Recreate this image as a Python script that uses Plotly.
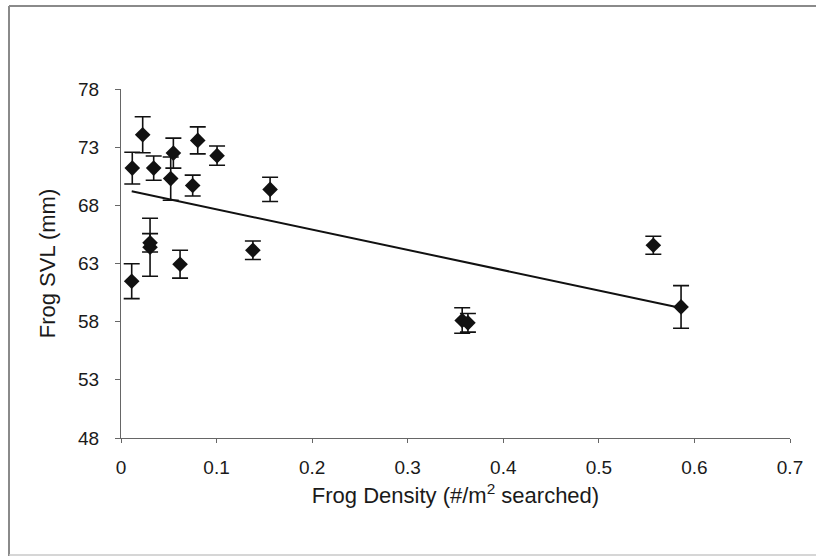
import numpy as np
import plotly.graph_objects as go

# Data
density = [0.0112, 0.0118, 0.0227, 0.0304, 0.0304, 0.0342, 0.0520, 0.0548, 0.0618,
           0.0750, 0.0803, 0.1005, 0.1380, 0.1560, 0.3570, 0.3630, 0.5570, 0.5860]
svl = [61.48, 71.20, 74.07, 64.40, 64.78, 71.20, 70.30, 72.49, 62.94,
       69.70, 73.58, 72.27, 64.14, 69.37, 58.10, 57.90, 64.57, 59.27]
svl_err = [1.50, 1.36, 1.55, 2.49, 0.79, 1.04, 1.86, 1.29, 1.20,
           0.90, 1.16, 0.83, 0.80, 1.04, 1.10, 0.80, 0.77, 1.83]

x_ticks = [0, 0.1, 0.2, 0.3, 0.4, 0.5, 0.6, 0.7]
x_tick_labels = ["0", "0.1", "0.2", "0.3", "0.4", "0.5", "0.6", "0.7"]
y_ticks = [48, 53, 58, 63, 68, 73, 78]
y_tick_labels = ["48", "53", "58", "63", "68", "73", "78"]

# Linear trendline (least squares), spanning data range
slope, intercept = np.polyfit(density, svl, 1)
trend_x = [min(density), max(density)]
trend_y = [slope * v + intercept for v in trend_x]

FONT = "Liberation Sans, Arial, sans-serif"

fig = go.Figure()
fig.add_trace(go.Scatter(
    x=trend_x, y=trend_y, mode="lines",
    line=dict(color="#111111", width=2), showlegend=False, hoverinfo="skip"))
fig.add_trace(go.Scatter(
    x=density, y=svl, mode="markers",
    marker=dict(symbol="diamond", size=12, color="#111111"),
    error_y=dict(type="data", array=svl_err, visible=True,
                 color="#111111", thickness=1.6, width=8),
    showlegend=False))

L, R, T, B = 121, 26, 89, 119
W, H = 816, 557
pw, ph = W - L - R, H - T - B

def px_to_paper_x(px):
    return (px - L) / pw

def py_to_paper_y(py):
    return (H - B - py) / ph

frame = dict(color="#8a8a8a", width=2)
# outer chart frame: top, left and bottom edges
fig.add_shape(type="line", xref="paper", yref="paper",
              x0=px_to_paper_x(9), x1=px_to_paper_x(816),
              y0=py_to_paper_y(6), y1=py_to_paper_y(6), line=frame, layer="below")
fig.add_shape(type="line", xref="paper", yref="paper",
              x0=px_to_paper_x(9), x1=px_to_paper_x(9),
              y0=py_to_paper_y(6), y1=py_to_paper_y(556), line=frame, layer="below")
fig.add_shape(type="line", xref="paper", yref="paper",
              x0=px_to_paper_x(9), x1=px_to_paper_x(816),
              y0=py_to_paper_y(555), y1=py_to_paper_y(555),
              line=dict(color="#c8c8c8", width=1.5), layer="below")

fig.update_layout(
    width=W, height=H,
    margin=dict(l=L, r=R, t=T, b=B),
    paper_bgcolor="white", plot_bgcolor="white",
    font=dict(family=FONT, size=19, color="#1a1a1a"),
    xaxis=dict(range=[0, 0.7], tickvals=x_ticks, ticktext=x_tick_labels,
               showgrid=False, zeroline=False, showline=True,
               linecolor="#666666", linewidth=1.2,
               ticks="outside", ticklen=4, tickcolor="#666666",
               tickfont=dict(size=19), ticklabelstandoff=8,
               title=dict(text="Frog Density (#/m<sup>2</sup> searched)",
                          font=dict(size=22), standoff=10)),
    yaxis=dict(range=[48, 78], tickvals=y_ticks, ticktext=y_tick_labels,
               showgrid=False, zeroline=False, showline=True,
               linecolor="#666666", linewidth=1.2,
               ticks="outside", ticklen=5, tickcolor="#666666",
               tickfont=dict(size=19), ticklabelstandoff=12,
               title=dict(text="Frog SVL (mm)", font=dict(size=22), standoff=16)),
)

fig.write_html("out.html", config={"displayModeBar": False},
               post_script="document.body.style.margin='0';document.body.style.overflow='hidden';")
